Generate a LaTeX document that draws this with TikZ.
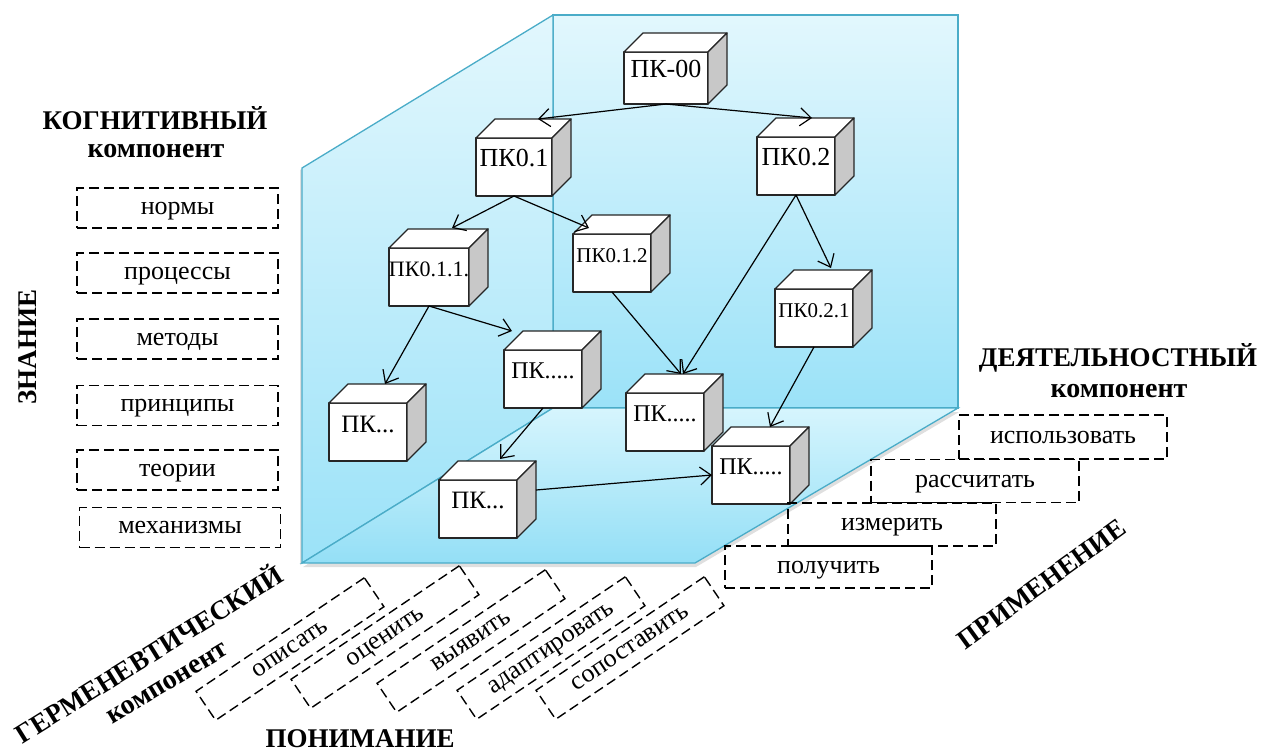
\documentclass[tikz,border=0pt]{standalone}
\usepackage{fontspec}
\setmainfont{Liberation Serif}
\usepackage{tikz}
\usetikzlibrary{arrows.meta,shapes,positioning,shadows}
\definecolor{pkteal}{RGB}{74,172,200}
\definecolor{walltop}{RGB}{226,247,253}
\definecolor{wallbot}{RGB}{155,226,248}
\definecolor{floortop}{RGB}{214,245,253}
\definecolor{floorbot}{RGB}{148,223,246}
\definecolor{pkgray}{RGB}{200,200,200}
\tikzstyle{pkarrow} = [line width=1.2pt,-{Straight Barb[length=11pt,width=18pt]}]
\tikzstyle{cubeline} = [line width=1.3pt,draw=black!85,line join=round]
\tikzstyle{pkcube} = [cubeline,fill=white,minimum width=78pt,minimum height=58pt,inner sep=0pt,outer sep=0pt,text height=10pt,text depth=12pt]
\tikzstyle{dashbox} = [draw,line width=1.4pt,dash pattern=on 10pt off 5pt,minimum width=201pt,minimum height=40pt,inner sep=0pt,text height=14pt,text depth=2pt,font=\fontsize{26}{28}\selectfont]
\tikzstyle{axislabel} = [font=\bfseries\fontsize{27}{30}\selectfont,inner sep=0pt]
\tikzstyle{komplabel} = [font=\bfseries\fontsize{28}{30}\selectfont,inner sep=0pt,text height=14pt,text depth=2pt]
% cube: front face as a node, top and side faces drawn after it
\newcommand{\pkbox}[5][]{%
  \node[pkcube,#1] (#2) at (#3,#4) {#5};
  \draw[cubeline,fill=white] (#2.north west) -- ++(19,-19) -- ([shift={(19,-19)}]#2.north east) -- (#2.north east) -- cycle;
  \draw[cubeline,fill=pkgray] (#2.north east) -- ++(19,-19) -- ([shift={(19,-19)}]#2.south east) -- (#2.south east) -- cycle;
}

\begin{document}
\begin{tikzpicture}[x=1pt,y=-1pt]
\useasboundingbox (0,0) rectangle (1264,753);

% Walls and floor
\draw[pkteal,line width=1.3pt,top color=walltop,bottom color=wallbot] (553,15) rectangle (958,408);
\draw[pkteal,line width=1.3pt,top color=walltop,bottom color=wallbot,drop shadow={shadow xshift=-2pt,shadow yshift=-2pt,opacity=0.25}] (302,168) -- (553,15) -- (553,408) -- (302,563) -- cycle;
\draw[pkteal,line width=1.3pt,top color=floortop,bottom color=floorbot,drop shadow={shadow xshift=1pt,shadow yshift=-4pt,opacity=0.25}] (302,563) -- (553,408) -- (958,408) -- (695,563) -- cycle;

% Cubes
\pkbox[minimum width=84pt,minimum height=52pt,font=\fontsize{26}{28}\selectfont]{pk00}{666}{78}{ПК-00}
\pkbox[minimum width=76pt,font=\fontsize{26}{28}\selectfont]{pk01}{514}{167}{ПК0.1}
\pkbox[font=\fontsize{26}{28}\selectfont]{pk02}{796}{166}{ПК0.2}
\pkbox[font=\fontsize{22}{24}\selectfont]{pk011}{429}{277}{ПК0.1.1.}
\pkbox[font=\fontsize{21}{23}\selectfont]{pk012}{612}{263}{ПК0.1.2}
\pkbox[font=\fontsize{21}{23}\selectfont]{pk021}{814}{318}{ПК0.2.1}
\pkbox[font=\fontsize{25}{27}\selectfont,text height=6pt,text depth=6pt]{pkA}{368}{432}{ПК...}
\pkbox[font=\fontsize{24}{26}\selectfont]{pkB}{543}{379}{ПК.....}
\pkbox[font=\fontsize{24}{26}\selectfont]{pkC}{665}{422}{ПК.....}
\pkbox[font=\fontsize{25}{27}\selectfont]{pkD}{478}{509}{ПК...}
\pkbox[font=\fontsize{24}{26}\selectfont]{pkE}{751}{475}{ПК.....}

% Links
\draw[pkarrow] (pk00.south) -- ([shift={(24,-19)}]pk01.north);
\draw[pkarrow] (pk00.south) -- ([shift={(16,-19)}]pk02.north);
\draw[pkarrow] (pk01.south) -- ([shift={(23,-20)}]pk011.north);
\draw[pkarrow] (pk01.south) -- ([shift={(-23,-6)}]pk012.north);
\draw[pkarrow] (pk02.south) -- ([shift={(17,-21)}]pk021.north);
\draw[pkarrow] (pk02.south) -- ([shift={(18,-19)}]pkC.north);
\draw[pkarrow] (pk012.south) -- ([shift={(16,-19)}]pkC.north);
\draw[pkarrow] (pk011.south) -- ([shift={(17,-19)}]pkA.north);
\draw[pkarrow] (pk011.south) -- ([shift={(-31,-19)}]pkB.north);
\draw[pkarrow] (pkB.south) -- ([shift={(22,-21)}]pkD.north);
\draw[pkarrow] ([shift={(19,-19)}]pkD.east) -- (pkE.west);
\draw[pkarrow] (pk021.south) -- ([shift={(19,-19)}]pkE.north);

% Cognitive component
\node[axislabel] (kogn) at (155,118) {КОГНИТИВНЫЙ};
\node[komplabel] (kognkomp) at (156,151) {компонент};
\node[axislabel,rotate=90] (znanie) at (28,347) {ЗНАНИЕ};
\node[dashbox] (normy) at (177.5,208) {нормы};
\node[dashbox] (processy) at (177.5,273) {процессы};
\node[dashbox] (metody) at (177.5,339) {методы};
\node[dashbox] (principy) at (177.5,405.5) {принципы};
\node[dashbox] (teorii) at (177.5,470) {теории};
\node[dashbox] (mehanizmy) at (180,527.5) {механизмы};

% Activity component
\node[axislabel] (deyat) at (1118,358) {ДЕЯТЕЛЬНОСТНЫЙ};
\node[komplabel] (deyatkomp) at (1119,391) {компонент};
\node[dashbox,minimum width=208pt,minimum height=44pt] (ispolz) at (1063,437) {использовать};
\node[dashbox,minimum width=208pt,minimum height=43pt] (rasschit) at (975,481) {рассчитать};
\node[dashbox,minimum width=208pt,minimum height=43pt] (izmerit) at (892,524.5) {измерить};
\node[dashbox,minimum width=207pt,minimum height=42pt] (poluchit) at (828.5,567) {получить};
\node[axislabel,rotate=36] (primen) at (1042,584) {ПРИМЕНЕНИЕ};

% Hermeneutic component
\node[axislabel,rotate=32] (germen) at (148,653) {ГЕРМЕНЕВТИЧЕСКИЙ};
\node[komplabel,rotate=31] (germenkomp) at (168,684) {компонент};
\node[dashbox,rotate=34,minimum width=203pt,minimum height=35pt] (opisat) at (290,649) {описать};
\node[dashbox,rotate=34,minimum width=203pt,minimum height=35pt] (ocenit) at (385,637) {оценить};
\node[dashbox,rotate=34,minimum width=203pt,minimum height=35pt] (vyyavit) at (471,641) {выявить};
\node[dashbox,rotate=34,minimum width=203pt,minimum height=35pt] (adapt) at (551,648) {адаптировать};
\node[dashbox,rotate=34,minimum width=203pt,minimum height=35pt] (sopost) at (630,648) {сопоставить};
\node[axislabel] (ponim) at (360,739) {ПОНИМАНИЕ};
\end{tikzpicture}
\end{document}
